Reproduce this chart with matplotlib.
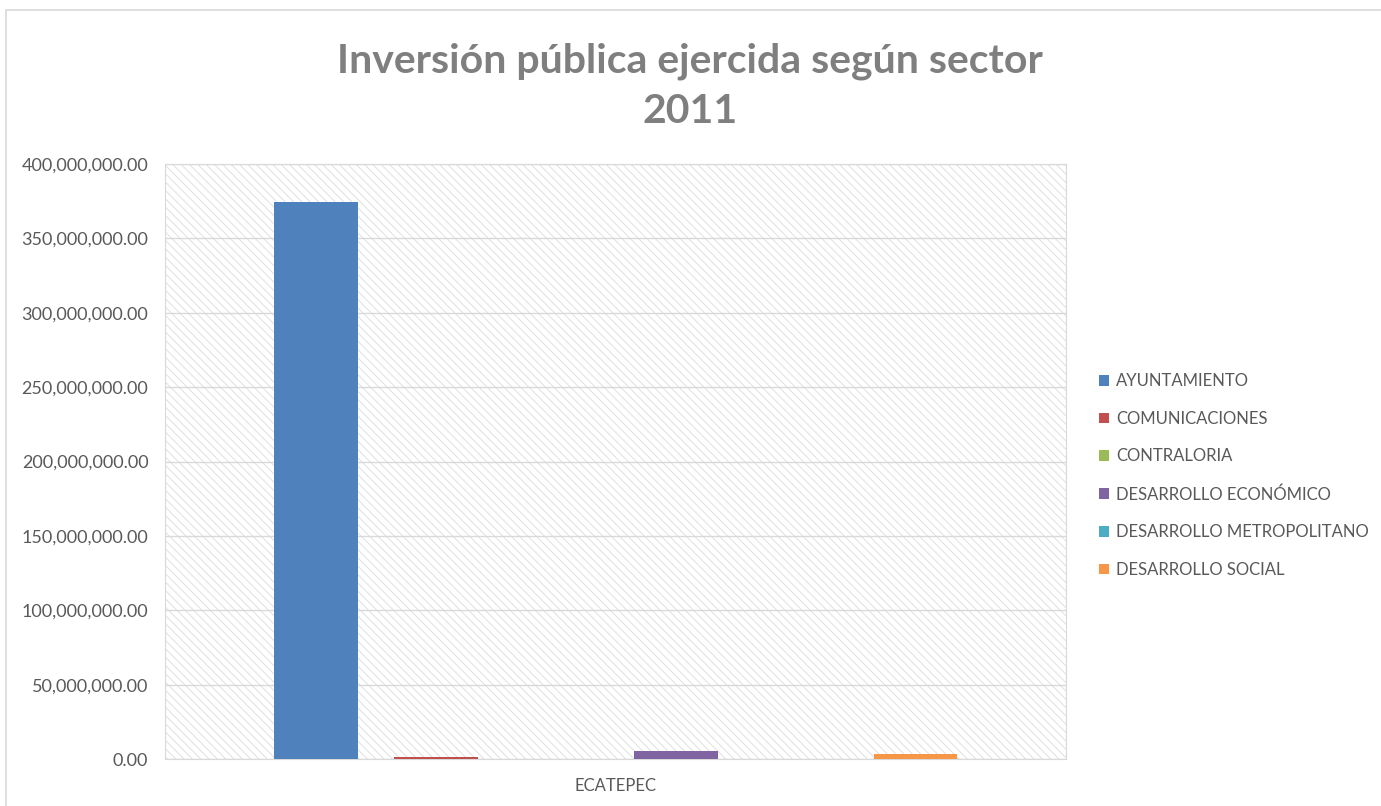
import matplotlib.pyplot as plt
import numpy as np
from matplotlib.patches import Rectangle, Patch
from matplotlib.ticker import FuncFormatter

plt.rcParams['font.family'] = ['Lato', 'DejaVu Sans']
plt.rcParams['hatch.linewidth'] = 0.6

municipio = "ECATEPEC"
sectores = ["AYUNTAMIENTO", "COMUNICACIONES", "CONTRALORIA",
            "DESARROLLO ECONÓMICO", "DESARROLLO METROPOLITANO", "DESARROLLO SOCIAL"]
inversion = [374500000, 1100000, 0, 5600000, 0, 3400000]
colores = ["#4F81BD", "#C0504D", "#9BBB59", "#8064A2", "#4BACC6", "#F79646"]

fig = plt.figure(figsize=(13.81, 8.06), dpi=100)
ax = fig.add_axes([0.1195, 0.0583, 0.6524, 0.7382])

# hatched plot background
ax.set_facecolor("white")
ax.add_patch(Rectangle((0, 0), 1, 1, transform=ax.transAxes, facecolor="white",
                       edgecolor="#dcdcdc", hatch="\\\\\\\\", linewidth=0, zorder=0))

slot = 120 / 901
ancho = 84 / 901
n = len(sectores)
for i, (s, v, c) in enumerate(zip(sectores, inversion, colores)):
    ax.bar((i - (n - 1) / 2) * slot, v, width=ancho, color=c, label=s, zorder=3)

ax.set_xlim(-0.5, 0.5)
ax.set_ylim(0, 400000000)
ax.set_yticks(np.arange(0, 400000001, 50000000))
ax.yaxis.set_major_formatter(FuncFormatter(lambda v, p: f"{v:,.2f}"))
ax.set_xticks([0])
ax.set_xticklabels([municipio])
ax.tick_params(length=0, labelsize=13, colors="#595959", pad=12)
ax.tick_params(axis="x", pad=14, labelsize=12)
ax.grid(axis="y", color="#d9d9d9", linewidth=1, zorder=1)
ax.set_axisbelow(True)
for sp in ax.spines.values():
    sp.set_color("#d9d9d9")

fig.text(0.4995, 0.893, "Inversión pública ejercida según sector\n2011", ha="center",
         va="center", fontsize=29.5, fontweight="bold", color="#7f7f7f", linespacing=1.42)

handles = [Patch(facecolor=c, edgecolor="none") for c in colores]
leg = fig.legend(handles, sectores, loc="center left", bbox_to_anchor=(0.785, 0.41),
                 frameon=False, fontsize=12, labelspacing=1.3, handlelength=0.6,
                 handleheight=0.6, handletextpad=0.4, labelcolor="#595959")

# chart area border
fig.add_artist(Rectangle((0.004, -0.01), 1.0, 0.998, transform=fig.transFigure,
                         fill=False, edgecolor="#d9d9d9", linewidth=1.2))

fig.savefig("out.png", dpi=100)
